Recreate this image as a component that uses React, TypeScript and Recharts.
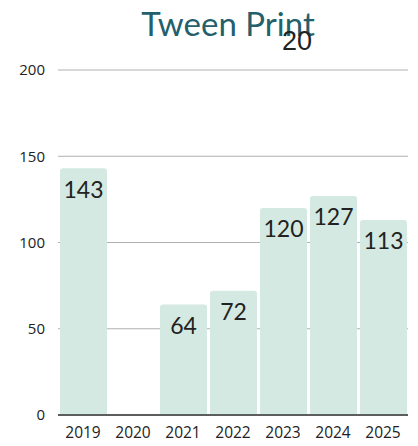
import { Bar, BarChart, CartesianGrid, LabelList, XAxis, YAxis } from "recharts";

const years = ["2019", "2020", "2021", "2022", "2023", "2024", "2025"];
const prints = [143, 0, 64, 72, 120, 127, 113];
const yTicks = [0, 50, 100, 150, 200];

const data = years.map((year, i) => ({ year, prints: prints[i] }));

export default function App() {
  return (
    <div style={{ position: "absolute", left: 0, top: 0, width: 418, height: 446, background: "#fff" }}>
      <div
        style={{
          position: "absolute",
          left: 0,
          width: 456,
          top: 4,
          textAlign: "center",
          fontFamily: "Lato, sans-serif",
          fontSize: 33,
          color: "#245f6c",
          lineHeight: "38px",
        }}
      >
        Tween Print
      </div>
      <div
        style={{
          position: "absolute",
          left: 282,
          top: 27,
          fontFamily: "'Liberation Sans', Arial, sans-serif",
          fontSize: 27,
          color: "#222",
          lineHeight: "28px",
        }}
      >
        20
      </div>
      <BarChart
        width={418}
        height={446}
        data={data}
        margin={{ top: 70, right: 10, bottom: 11, left: 8 }}
        style={{ position: "absolute", left: 0, top: 0 }}
      >
        <CartesianGrid vertical={false} stroke="#b0b0b0" strokeWidth={1} />
        <XAxis
          dataKey="year"
          height={20}
          axisLine={{ stroke: "#333", strokeWidth: 1.5 }}
          tickLine={false}
          tick={{ fill: "#222", fontSize: 15.5, fontFamily: "'Open Sans', sans-serif" }}
          tickMargin={6}
        />
        <YAxis
          width={50}
          domain={[0, 200]}
          ticks={yTicks}
          axisLine={false}
          tickLine={false}
          tickSize={6}
          tick={{ fill: "#222", fontSize: 15, fontFamily: "'Open Sans', sans-serif" }}
          tickMargin={7}
        />
        <Bar dataKey="prints" fill="#d3e9e1" barSize={47} radius={[3, 3, 0, 0]} isAnimationActive={false}>
          <LabelList
            dataKey="prints"
            position="insideTop"
            offset={13}
            fill="#222"
            fontSize={23}
            fontFamily="Lato, sans-serif"
            formatter={(v: number) => (v ? v : "")}
          />
        </Bar>
      </BarChart>
    </div>
  );
}
